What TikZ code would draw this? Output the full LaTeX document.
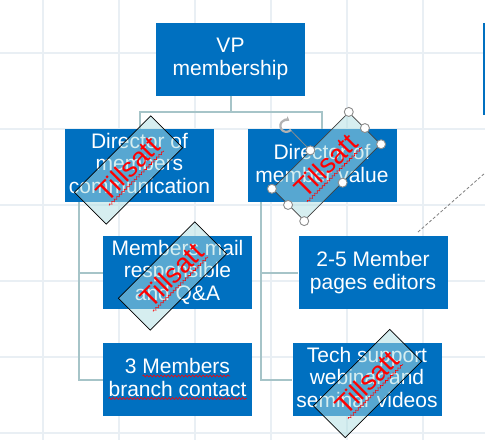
\documentclass[tikz,border=0pt]{standalone}
\usepackage{fontspec}
\setmainfont{Liberation Sans}
\usetikzlibrary{arrows.meta,decorations.pathmorphing}

\definecolor{boxblue}{RGB}{0,112,192}
\definecolor{linkgray}{RGB}{166,196,200}
\definecolor{gridgray}{RGB}{233,239,244}
\definecolor{stampfill}{RGB}{175,222,226}
\definecolor{handlegray}{RGB}{140,140,140}

\begin{document}
\begin{tikzpicture}[x=1pt,y=-1pt,
  orgbox/.style={fill=boxblue,text=white,minimum width=149pt,minimum height=73pt,
    inner sep=0pt,align=center,text depth=4.4pt,font=\fontsize{21}{22.5}\selectfont},
  link/.style={draw=linkgray,line width=2pt},
  gridline/.style={draw=gridgray,line width=2pt},
  spell/.style={red,line width=0.6pt,decorate,decoration={snake,amplitude=1pt,segment length=3.5pt}},
  stampbox/.style={draw=black,line width=0.7pt,fill=stampfill,fill opacity=0.5,
    rotate=45,minimum width=108pt,minimum height=45pt,inner sep=0pt},
  stamptext/.style={text=red,rotate=45,inner sep=0pt,text depth=3pt,font=\fontsize{27}{27}\selectfont},
  handle/.style={circle,draw=handlegray,fill=white,line width=0.9pt,minimum size=9pt,inner sep=0pt}]
\useasboundingbox (0,0) rectangle (485,440);
\fill[white] (0,0) rectangle (485,440);
% background grid
\foreach \gx in {43,119,...,423}
  \draw[gridline] (\gx,0) -- (\gx,440);
\foreach \gy in {53,129,...,433}
  \draw[gridline] (0,\gy) -- (485,\gy);
% part of a box beyond the right edge
\fill[boxblue] (482.5,23) rectangle (485,115);
\coordinate (dashA) at (418,232);
\coordinate (dashB) at (485,173);
\draw[gray,dash pattern=on 3pt off 2pt,line width=0.8pt] (dashA) -- (dashB);
% boxes
\node[orgbox] (vp) at (230.5,59) {VP\\membership};
\node[orgbox] (dmc) at (139.5,165.5) {Director of\\members\\communication};
\node[orgbox] (dmv) at (322,165.5) {Director of\\member value};
\node[orgbox] (mail) at (177.5,272.5) {Members mail\\responsible\\and Q\&A};
\node[orgbox] (editors) at (373,272.5) {2-5 Member\\pages editors};
\node[orgbox] (branch) at (177.5,379.5) {3 Members\\branch contact};
\node[orgbox] (tech) at (367,379.5) {Tech support\\webinar and\\seminar videos};
% spell-check waves
\path (branch.center) ++(-35,-3.5) coordinate (w1a) ++(87.5,0) coordinate (w1b);
\path (branch.center) ++(-69,19) coordinate (w2a) ++(138,0) coordinate (w2b);
\draw[spell] (w1a) -- (w1b);
\draw[spell] (w2a) -- (w2b);
% connectors
\draw[link] (vp.south) -- ++(0,16) coordinate (fork);
\draw[link] (dmc.north) |- (fork) -| (dmv.north);
\path (dmc.south west) ++(14,0) coordinate (ltrunk);
\path (dmv.south west) ++(14,0) coordinate (rtrunk);
\draw[link] (ltrunk) |- (mail.west);
\draw[link] (ltrunk) |- (branch.west);
\draw[link] (rtrunk) |- (editors.west);
\draw[link] (rtrunk) |- (tech.west);
% stamps
\node[stampbox] (s1) at (128.5,170) {};
\node[stampbox,draw=darkgray] (s2) at (326.5,166.5) {};
\node[stampbox] (s3) at (172.5,276) {};
\node[stampbox] (s4) at (367.5,383.5) {};
\foreach \s in {1,2,3,4}{
  \node[stamptext] (t\s) at (s\s) {Tillsatt};
  \draw[spell] (t\s.south west) -- (t\s.south east);}
% selection handles
\path (s2.north) ++(-24,-24.5) coordinate (rot);
\draw[handlegray,line width=0.8pt,shorten <=6pt] (rot) -- (s2.north);
\draw[gray!60,line width=2.2pt,-{Stealth[length=4pt,width=6pt]}] (rot) ++(40:6) arc (40:300:6);
\foreach \a in {north west,north,north east,east,south east,south,south west,west}
  \node[handle] at (s2.\a) {};
\end{tikzpicture}
\end{document}
